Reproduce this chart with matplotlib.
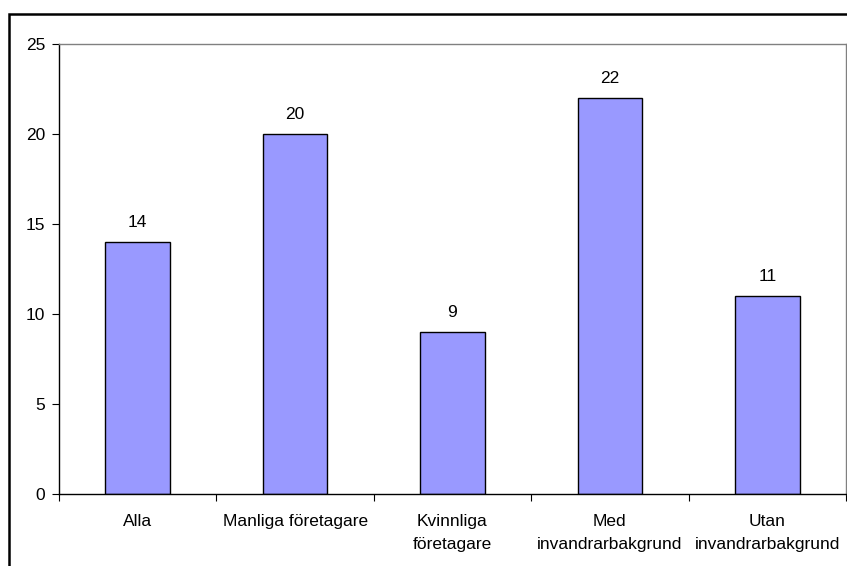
import numpy as np
import matplotlib.pyplot as plt
from matplotlib.patches import Rectangle

categories = ['Alla', 'Manliga företagare', 'Kvinnliga\nföretagare',
              'Med\ninvandrarbakgrund', 'Utan\ninvandrarbakgrund']
values = [14, 20, 9, 22, 11]
yticks = [0, 5, 10, 15, 20, 25]

plt.rcParams['font.family'] = ['Liberation Sans', 'DejaVu Sans']
fs = 12.5

fig = plt.figure(figsize=(8.47, 5.66), dpi=100)
ax = fig.add_axes([59 / 847, 72 / 566, 787 / 847, 450 / 566])

x = np.arange(len(categories))
bars = ax.bar(x, values, width=0.41, color='#9999FF', edgecolor='black', linewidth=1)

for b, v in zip(bars, values):
    ax.annotate(str(v), (b.get_x() + b.get_width() / 2, v), xytext=(0, 8.5),
                textcoords='offset points', ha='center', va='bottom', fontsize=fs)

ax.set_xlim(-0.5, len(categories) - 0.5)
ax.set_ylim(0, 25)
ax.set_yticks(yticks)
ax.set_yticklabels([str(t) for t in yticks], fontsize=fs)

# ticks sit between the categories, labels under the bars
ax.set_xticks(np.arange(len(categories) + 1) - 0.5)
ax.set_xticklabels([])
ax.set_xticks(x, minor=True)
ax.set_xticklabels(categories, minor=True, fontsize=fs, linespacing=1.68)
ax.tick_params(axis='x', which='minor', length=0, pad=14.5)
ax.tick_params(axis='x', which='major', length=5, direction='out')
ax.tick_params(axis='y', length=5, direction='out', pad=5)

for s in ['left', 'bottom']:
    ax.spines[s].set_color('black')
    ax.spines[s].set_linewidth(1)
for s in ['top', 'right']:
    ax.spines[s].set_color('#808080')
    ax.spines[s].set_linewidth(1)

# outer chart frame (clipped by the image edge)
fig.patches.append(Rectangle((9 / 847, -0.1), 1.0, (552 / 566) + 0.1,
                             transform=fig.transFigure, fill=False,
                             edgecolor='black', linewidth=1.8, zorder=0))

fig.savefig('out.png', dpi=100)
